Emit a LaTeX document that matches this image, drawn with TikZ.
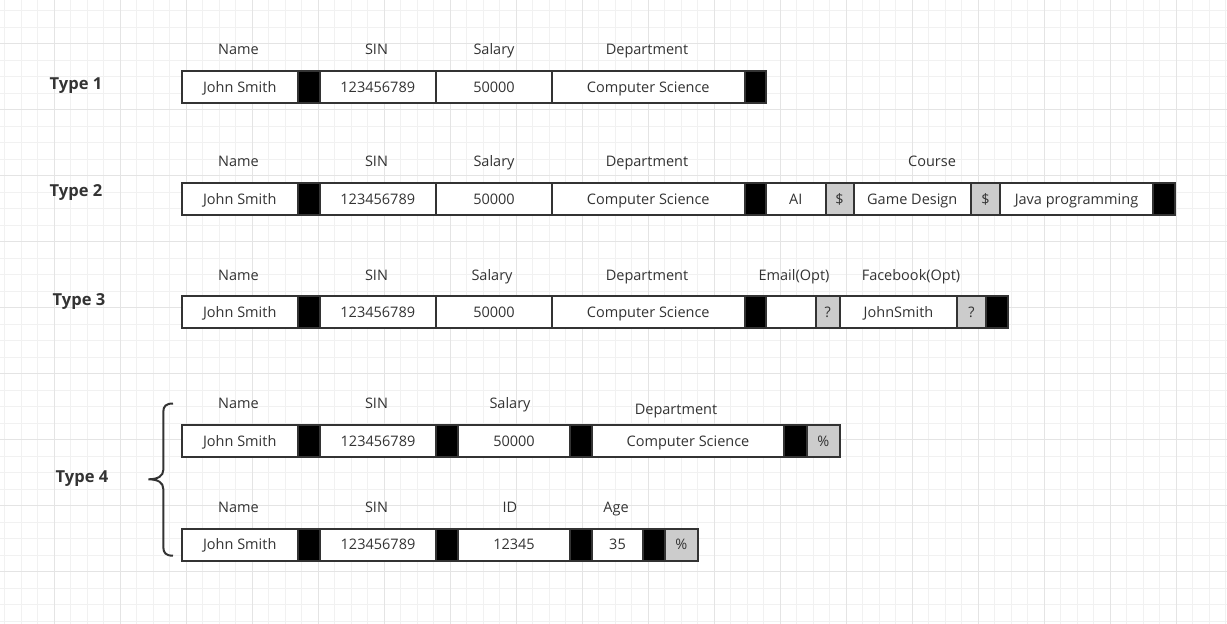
\documentclass[tikz,border=0pt]{standalone}
\usepackage{fontspec}
\setmainfont{Open Sans}
\begin{document}
\begin{tikzpicture}[x=1pt,y=-1pt,
  ink/.style={color={rgb,255:red,51;green,51;blue,51}},
  gridminor/.style={draw={rgb,255:red,241;green,241;blue,241},line width=1pt},
  gridmajor/.style={draw={rgb,255:red,228;green,228;blue,228},line width=1pt},
  cellbase/.style={rectangle,draw={rgb,255:red,51;green,51;blue,51},line width=2pt,
    minimum height=32pt,inner sep=0pt,anchor=west,font=\fontsize{14.5}{17}\selectfont,
    text height=10.4pt,text depth=0pt,
    text={rgb,255:red,51;green,51;blue,51}},
  field/.style={cellbase,fill=white},
  sepcell/.style={cellbase,fill=black},
  flagcell/.style={cellbase,fill={rgb,255:red,204;green,204;blue,204}},
  caption/.style={inner sep=0pt,font=\fontsize{14.5}{17}\selectfont,
    text height=10.4pt,text depth=0pt,
    text={rgb,255:red,51;green,51;blue,51}},
  typelabel/.style={inner sep=0pt,font=\fontsize{16.5}{20}\bfseries\selectfont,
    text height=11.8pt,text depth=0pt,
    text={rgb,255:red,51;green,51;blue,51}}
]
\newcommand{\cellbox}[6]{\node[#5,minimum width={#3-#2}] (#1) at (#2,#4) {#6};}
% canvas and grid
\useasboundingbox (0,0) rectangle (1227,624);
\fill[white] (0,0) rectangle (1227,624);
\foreach \i in {0,...,74} \draw[gridminor] ({4.8+16.5*\i},0) -- ({4.8+16.5*\i},624);
\foreach \i in {0,...,37} \draw[gridminor] (0,{10.7+16.5*\i}) -- (1227,{10.7+16.5*\i});
\foreach \i in {0,...,18} \draw[gridmajor] ({54.3+66*\i},0) -- ({54.3+66*\i},624);
\foreach \i in {0,...,9} \draw[gridmajor] (0,{43.7+66*\i}) -- (1227,{43.7+66*\i});

% ---------- Type 1 ----------
\node[typelabel] (type1) at (76,84) {Type 1};
\node[caption] (c1name) at (238.5,49) {Name};
\node[caption] (c1sin) at (376.5,49) {SIN};
\node[caption] (c1sal) at (494,49) {Salary};
\node[caption] (c1dep) at (647,49) {Department};
\cellbox{r1name}{180.5}{297}{87}{field}{John Smith}
\cellbox{r1s1}{297}{318.5}{87}{sepcell}{}
\cellbox{r1sin}{318.5}{435}{87}{field}{123456789}
\cellbox{r1sal}{435}{551}{87}{field}{50000}
\cellbox{r1dep}{551}{743.5}{87}{field}{Computer Science}
\cellbox{r1s2}{743.5}{765}{87}{sepcell}{}

% ---------- Type 2 ----------
\node[typelabel] (type2) at (76,191) {Type 2};
\node[caption] (c2name) at (238.5,161) {Name};
\node[caption] (c2sin) at (376.5,161) {SIN};
\node[caption] (c2sal) at (494,161) {Salary};
\node[caption] (c2dep) at (647,161) {Department};
\node[caption] (c2course) at (932,161) {Course};
\cellbox{r2name}{180.5}{297}{199}{field}{John Smith}
\cellbox{r2s1}{297}{318.5}{199}{sepcell}{}
\cellbox{r2sin}{318.5}{435}{199}{field}{123456789}
\cellbox{r2sal}{435}{551}{199}{field}{50000}
\cellbox{r2dep}{551}{743.5}{199}{field}{Computer Science}
\cellbox{r2s2}{743.5}{765}{199}{sepcell}{}
\cellbox{r2ai}{765}{824.5}{199}{field}{AI}
\cellbox{r2d1}{824.5}{852.5}{199}{flagcell}{\$}
\cellbox{r2gd}{852.5}{970}{199}{field}{Game Design}
\cellbox{r2d2}{970}{999}{199}{flagcell}{\$}
\cellbox{r2java}{999}{1152}{199}{field}{Java programming}
\cellbox{r2s3}{1152}{1174}{199}{sepcell}{}

% ---------- Type 3 ----------
\node[typelabel] (type3) at (79,300) {Type 3};
\node[caption] (c3name) at (238.5,275) {Name};
\node[caption] (c3sin) at (376.5,275) {SIN};
\node[caption] (c3sal) at (492,275) {Salary};
\node[caption] (c3dep) at (647,275) {Department};
\node[caption] (c3mail) at (794,275) {Email(Opt)};
\node[caption] (c3fb) at (911,275) {Facebook(Opt)};
\cellbox{r3name}{180.5}{297}{312}{field}{John Smith}
\cellbox{r3s1}{297}{318.5}{312}{sepcell}{}
\cellbox{r3sin}{318.5}{435}{312}{field}{123456789}
\cellbox{r3sal}{435}{551}{312}{field}{50000}
\cellbox{r3dep}{551}{743.5}{312}{field}{Computer Science}
\cellbox{r3s2}{743.5}{765}{312}{sepcell}{}
\cellbox{r3mail}{765}{814.5}{312}{field}{}
\cellbox{r3q1}{814.5}{839}{312}{flagcell}{?}
\cellbox{r3fb}{839}{956}{312}{field}{JohnSmith}
\cellbox{r3q2}{956}{985}{312}{flagcell}{?}
\cellbox{r3s3}{985}{1006.5}{312}{sepcell}{}

% ---------- Type 4 ----------
\node[typelabel] (type4) at (82,477) {Type 4};
\draw[ink,line width=2pt]
  (173,403.5) .. controls (166,403.5) and (163.3,406) .. (163.3,412)
  -- (163.3,470) .. controls (163.3,476) and (158,479.3) .. (148.3,479.3)
  .. controls (158,479.3) and (163.3,482.5) .. (163.3,489)
  -- (163.3,547) .. controls (163.3,553) and (166,555.7) .. (173,555.7);

\node[caption] (c4name) at (238.5,403) {Name};
\node[caption] (c4sin) at (376.5,403) {SIN};
\node[caption] (c4sal) at (510,403) {Salary};
\node[caption] (c4dep) at (676,409) {Department};
\cellbox{r4name}{180.5}{297}{441}{field}{John Smith}
\cellbox{r4s1}{297}{319}{441}{sepcell}{}
\cellbox{r4sin}{319}{435}{441}{field}{123456789}
\cellbox{r4s2}{435}{457}{441}{sepcell}{}
\cellbox{r4sal}{457}{569}{441}{field}{50000}
\cellbox{r4s3}{569}{591}{441}{sepcell}{}
\cellbox{r4dep}{591}{783}{441}{field}{Computer Science}
\cellbox{r4s4}{783}{805.5}{441}{sepcell}{}
\cellbox{r4pc}{805.5}{839}{441}{flagcell}{\%}

\node[caption] (c5name) at (238.5,507) {Name};
\node[caption] (c5sin) at (376.5,507) {SIN};
\node[caption] (c5id) at (510,507) {ID};
\node[caption] (c5age) at (616,507) {Age};
\cellbox{r5name}{180.5}{297}{544.5}{field}{John Smith}
\cellbox{r5s1}{297}{319}{544.5}{sepcell}{}
\cellbox{r5sin}{319}{435}{544.5}{field}{123456789}
\cellbox{r5s2}{435}{457}{544.5}{sepcell}{}
\cellbox{r5id}{457}{569}{544.5}{field}{12345}
\cellbox{r5s3}{569}{591}{544.5}{sepcell}{}
\cellbox{r5age}{591}{642}{544.5}{field}{35}
\cellbox{r5s4}{642}{663.5}{544.5}{sepcell}{}
\cellbox{r5pc}{663.5}{697}{544.5}{flagcell}{\%}
\end{tikzpicture}
\end{document}
